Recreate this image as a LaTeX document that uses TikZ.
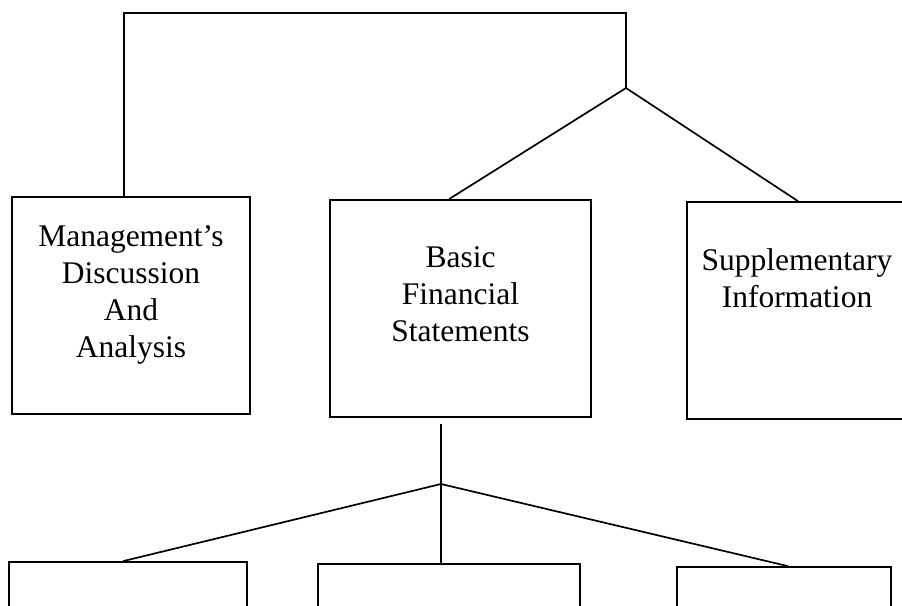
\documentclass[tikz,border=0pt]{standalone}
\usepackage{fontspec}
\setmainfont{Liberation Serif}
\begin{document}
\begin{tikzpicture}[x=1pt,y=-1pt,
  conn/.style={line width=1.7pt,black},
  box/.style={draw,line width=1.7pt,minimum height=217pt,inner sep=0pt},
  lowbox/.style={draw,line width=1.7pt,minimum height=80pt,inner sep=0pt},
  txt/.style={anchor=base,align=center,text width=220pt,inner sep=0pt,
    font=\fontsize{31.5}{37}\selectfont}]
\useasboundingbox (0,0) rectangle (902,605);
% boxes
\node[box,minimum width=238pt] (mda) at (131,305.5) {};
\node[box,minimum width=261pt] (bfs) at (460.5,308.5) {};
\node[box,minimum width=220pt] (sup) at (797,310.5) {};
\node[lowbox,minimum width=238pt] (b1) at (128,602) {};
\node[lowbox,minimum width=262pt] (b2) at (449,604) {};
\node[lowbox,minimum width=214pt] (b3) at (784,607) {};
% texts
\node[txt] (mdat) at (131,246) {Management’s\\Discussion\\And\\Analysis};
\node[txt] (bfst) at (460.5,267) {Basic\\Financial\\Statements};
\node[txt] (supt) at (797,270) {Supplementary\\Information};
% junctions
\coordinate (top) at (626,13);
\coordinate (apex1) at (626,88);
\coordinate (apex2) at (441,484);
% upper connectors
\draw[conn] (mda.north -| 124,0) |- (top) -- (apex1);
\draw[conn] (apex1) -- (bfs.north -| 449,0);
\draw[conn] (apex1) -- (sup.north -| 798,0);
% lower connectors
\draw[conn] ([yshift=-6pt]bfs.south -| apex2) -- (apex2) -- (b2.north -| apex2);
\draw[conn] (apex2) -- (b1.north -| 123,0);
\draw[conn] (apex2) -- (b3.north -| 788,0);
\end{tikzpicture}
\end{document}
